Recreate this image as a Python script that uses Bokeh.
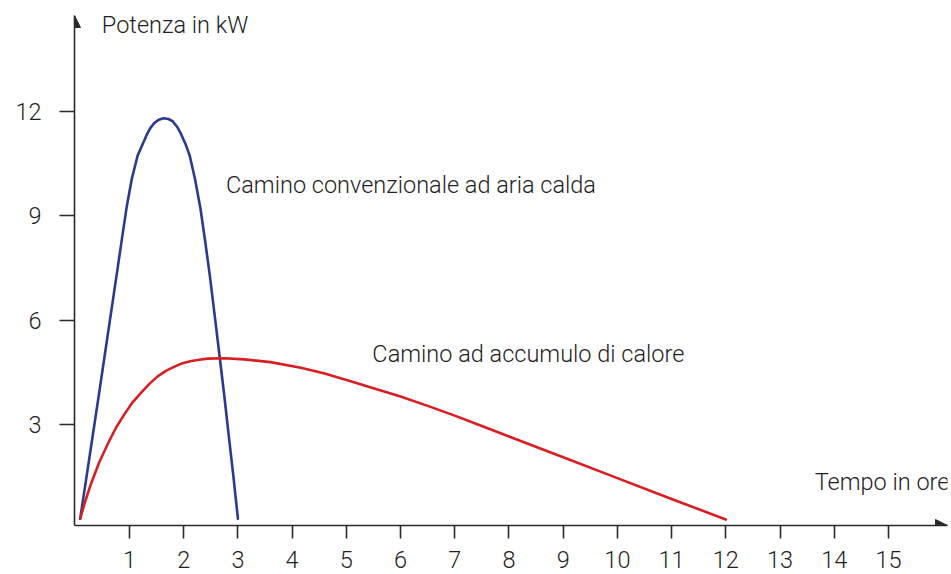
from bokeh.plotting import figure
from bokeh.models import Range1d, LinearAxis, FixedTicker, Label, Arrow, NormalHead
from bokeh.embed import file_html
from bokeh.resources import INLINE

# ---- data ----
time_conv = [0.09, 0.43, 0.77, 0.86, 0.95, 1.04, 1.15, 1.31, 1.38, 1.46, 1.54, 1.63, 1.72, 1.80, 1.88, 1.95, 2.03, 2.11, 2.21, 2.31, 2.40, 2.48, 2.57, 2.66, 2.75, 2.83, 2.92, 3.00]
power_conv = [0.28, 3.80, 7.38, 8.34, 9.28, 10.05, 10.74, 11.31, 11.52, 11.68, 11.77, 11.81, 11.79, 11.72, 11.56, 11.36, 11.08, 10.74, 10.05, 9.20, 8.22, 7.30, 6.15, 4.98, 3.80, 2.68, 1.45, 0.28]

time_acc = [0.09, 0.17, 0.29, 0.44, 0.60, 0.75, 0.91, 1.06, 1.22, 1.37, 1.52, 1.67, 1.83, 1.98, 2.14, 2.29, 2.44, 2.75, 3.12, 3.60, 4.16, 4.60, 5.08, 5.50, 6.00, 6.50, 7.00, 7.50, 8.00, 9.00, 10.00, 11.00, 12.00]
power_acc = [0.28, 0.72, 1.29, 1.90, 2.44, 2.90, 3.30, 3.64, 3.92, 4.17, 4.38, 4.54, 4.66, 4.76, 4.82, 4.86, 4.89, 4.90, 4.87, 4.79, 4.63, 4.46, 4.24, 4.04, 3.80, 3.53, 3.25, 2.95, 2.65, 2.05, 1.45, 0.85, 0.26]

x_ticks = list(range(1, 16))
y_ticks = [3, 6, 9, 12]

x_title = "Tempo in ore"
y_title = "Potenza in kW"
label_conv = "Camino convenzionale ad aria calda"
label_acc = "Camino ad accumulo di calore"

FONT = "Roboto Light"
TXT = "#1e1e1e"
AX = "#2a2a2a"
BLUE = "#2b3a8c"
RED = "#d81e22"

X0, X1 = -0.015, 16.09
Y0, Y1 = 0.086, 14.77

p = figure(width=951, height=574, output_backend="svg", toolbar_location=None,
           x_range=Range1d(X0, X1), y_range=Range1d(Y0, Y1),
           x_axis_type=None, y_axis_type=None,
           min_border_left=74, min_border_right=4, min_border_top=15, min_border_bottom=49)
p.outline_line_color = None
p.xgrid.visible = False
p.ygrid.visible = False
p.background_fill_color = "white"
p.border_fill_color = "white"

xaxis = LinearAxis(ticker=FixedTicker(ticks=x_ticks))
yaxis = LinearAxis(ticker=FixedTicker(ticks=y_ticks))
for ax in (xaxis, yaxis):
    ax.axis_line_color = AX
    ax.axis_line_width = 1.6
    ax.major_tick_line_color = AX
    ax.major_tick_line_width = 1.6
    ax.minor_tick_line_color = None
    ax.major_tick_in = 0
    ax.major_label_text_font = FONT
    ax.major_label_text_font_size = "23.5px"
    ax.major_label_text_color = TXT
xaxis.major_tick_out = 13
xaxis.major_label_standoff = 12
yaxis.major_tick_out = 15
yaxis.major_label_standoff = 18
p.add_layout(xaxis, "below")
p.add_layout(yaxis, "left")

# axis arrows
p.add_layout(Arrow(end=NormalHead(size=12, fill_color=AX, line_color=AX, line_width=1),
                   x_start=X1 - 0.4, y_start=Y0, x_end=X1, y_end=Y0,
                   line_alpha=0))
p.add_layout(Arrow(end=NormalHead(size=12, fill_color=AX, line_color=AX, line_width=1),
                   x_start=X0, y_start=Y1 - 0.5, x_end=X0, y_end=Y1,
                   line_alpha=0))

p.line(time_conv, power_conv, line_color=BLUE, line_width=2.6, line_join="round", line_cap="round")
p.line(time_acc, power_acc, line_color=RED, line_width=2.6, line_join="round", line_cap="round")

def lab(x, y, t):
    p.add_layout(Label(x=x, y=y, text=t, text_font=FONT, text_font_size="23.5px",
                       text_color=TXT, text_baseline="alphabetic", text_align="left"))

lab(0.49, 14.51, y_title)
lab(13.64, 1.34, x_title)
lab(2.78, 9.90, label_conv)
lab(5.48, 5.02, label_acc)

open("out.html", "w").write(file_html(p, INLINE))
